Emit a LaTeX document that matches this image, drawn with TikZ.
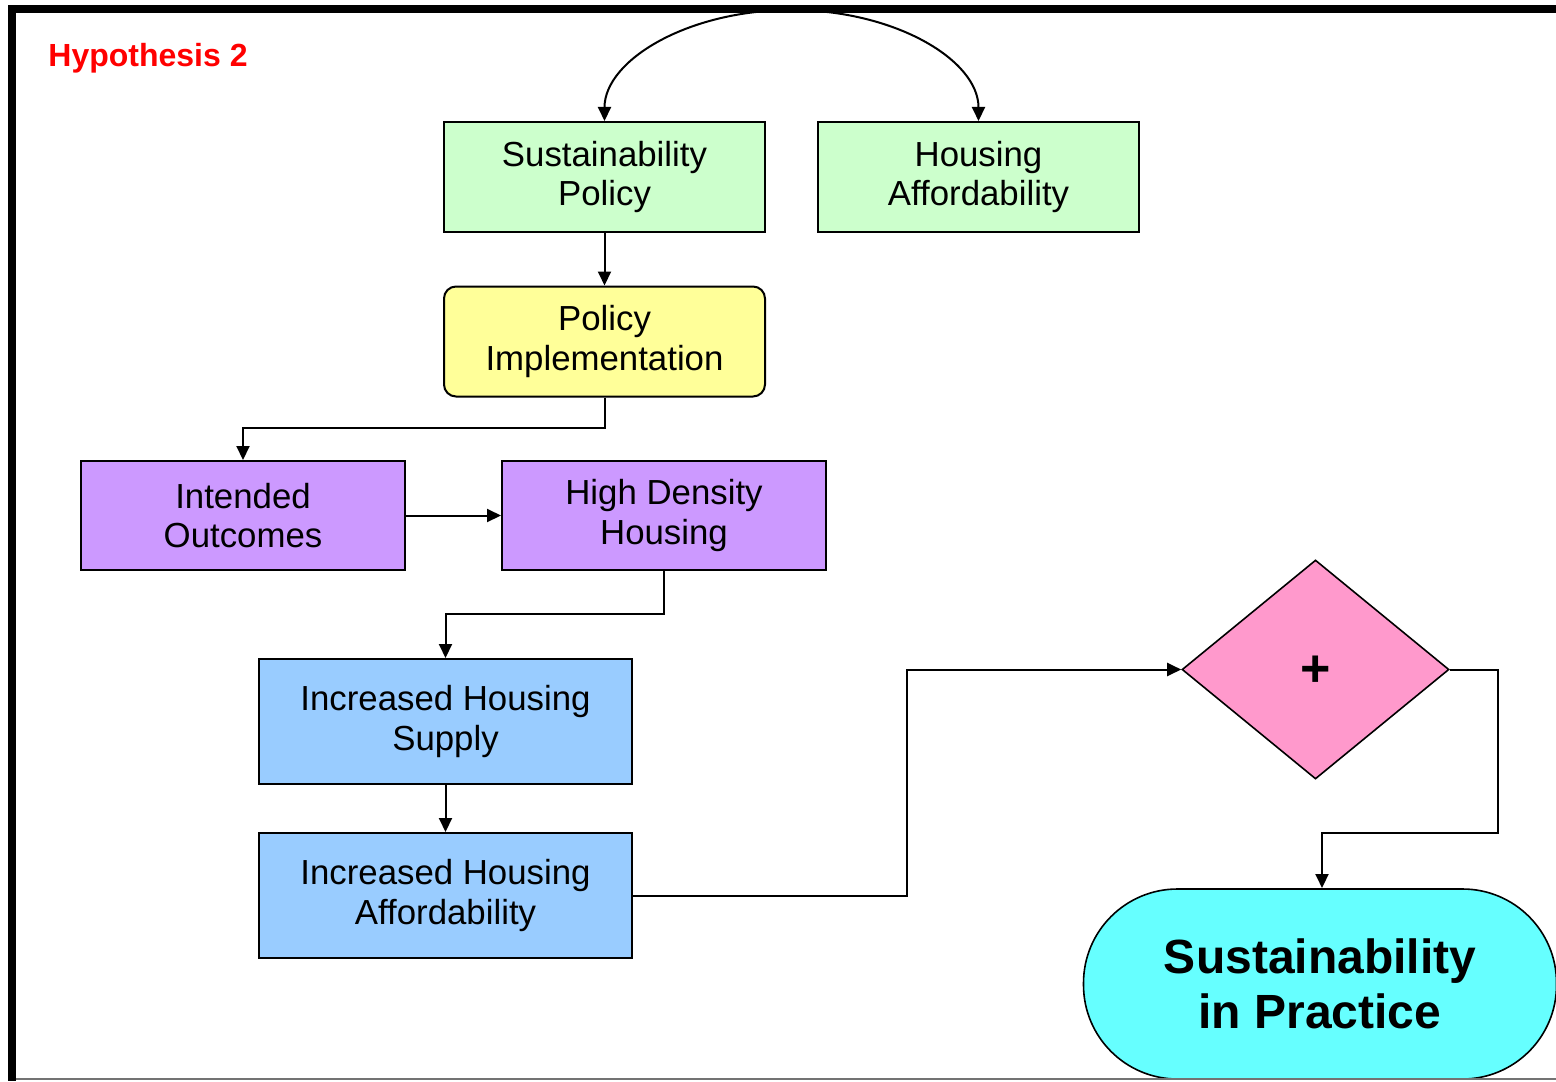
\documentclass[tikz,border=0pt]{standalone}
\usepackage{fontspec}
\setmainfont{Liberation Sans}
\usetikzlibrary{shapes.geometric,arrows.meta}
\definecolor{policygreen}{HTML}{CCFFCC}
\definecolor{implyellow}{HTML}{FFFF99}
\definecolor{outcomeviolet}{HTML}{CC99FF}
\definecolor{housingblue}{HTML}{99CCFF}
\definecolor{joinpink}{HTML}{FF99CC}
\definecolor{resultcyan}{HTML}{66FFFF}
\begin{document}
\begin{tikzpicture}[x=0.5pt,y=-0.5pt,
  box/.style={draw, line width=1pt, align=center, inner sep=0pt,
    font=\fontsize{17.4}{19.6}\selectfont,
    execute at begin node={\rule{0pt}{18pt}},
    minimum width=160.5pt, minimum height=55pt},
  widebox/.style={box, minimum width=186.5pt, minimum height=62.5pt, fill=housingblue},
  conn/.style={line width=1pt, -{Triangle[length=7pt,width=6.5pt]}},
  twoway/.style={line width=1pt, {Triangle[length=7pt,width=6.5pt]}-{Triangle[length=7pt,width=6.5pt]}}]
\useasboundingbox (0,0) rectangle (1556,1081);
\fill[white] (0,0) rectangle (1556,1081);

% title
\node[text=red, font=\fontsize{16}{19}\selectfont\bfseries] (title) at (148,58) {Hypothesis 2};

% nodes
\node[box, fill=policygreen] (sp) at (604.5,177) {Sustainability\\Policy};
\node[box, fill=policygreen] (ha) at (978.5,177) {Housing\\Affordability};
\node[box, fill=implyellow, rounded corners=6pt] (pi) at (604.5,341.5) {Policy\\Implementation};
\node[box, fill=outcomeviolet, minimum width=162pt, minimum height=54.5pt] (io) at (243,515.5) {Intended\\Outcomes};
\node[box, fill=outcomeviolet, minimum width=162pt, minimum height=54.5pt] (hd) at (664,515.5) {High Density\\Housing};
\node[widebox] (is) at (445.5,721.5) {Increased Housing\\Supply};
\node[widebox] (ia) at (445.5,895.5) {Increased Housing\\Affordability};
\node[draw, line width=0.8pt, fill=joinpink, diamond, inner sep=0pt,
  minimum width=133.5pt, minimum height=109.5pt] (dm) at (1315.5,669.5) {};
\node[font=\fontsize{26}{26}\selectfont\bfseries] (plus) at (1315.5,671) {+};
\node[draw, line width=0.8pt, fill=resultcyan, rounded corners=47pt, inner sep=0pt,
  minimum width=236.5pt, minimum height=95pt, align=center,
  font=\fontsize{24}{27.5}\selectfont\bfseries] (sip) at (1320,984) {Sustainability\\in Practice};

% connectors
\draw[twoway] (sp.north) .. controls (604.5,60.1) and (688.2,10) .. (791.5,10)
  .. controls (894.8,10) and (978.5,60.1) .. (ha.north);
\draw[conn] (sp.south) -- (pi.north);
\draw[conn] (pi.south) -- (604.5,428) -| (io.north);
\draw[conn] (io.east) -- (hd.west);
\draw[conn] (hd.south) -- (664,614) -| (is.north);
\draw[conn] (is.south) -- (ia.north);
\draw[conn] (ia.east) -- (907,895.5) |- (dm.west);
\draw[conn] (dm.east) -- (1498,669.5) -- (1498,833) -- (1322,833) -- (1322,888);

% frame
\fill (8,5) rectangle (1556,13);
\fill (8,5) rectangle (16,1081);
\draw[black!55, line width=0.8pt] (16,1079) -- (1556,1079);
\end{tikzpicture}
\end{document}
